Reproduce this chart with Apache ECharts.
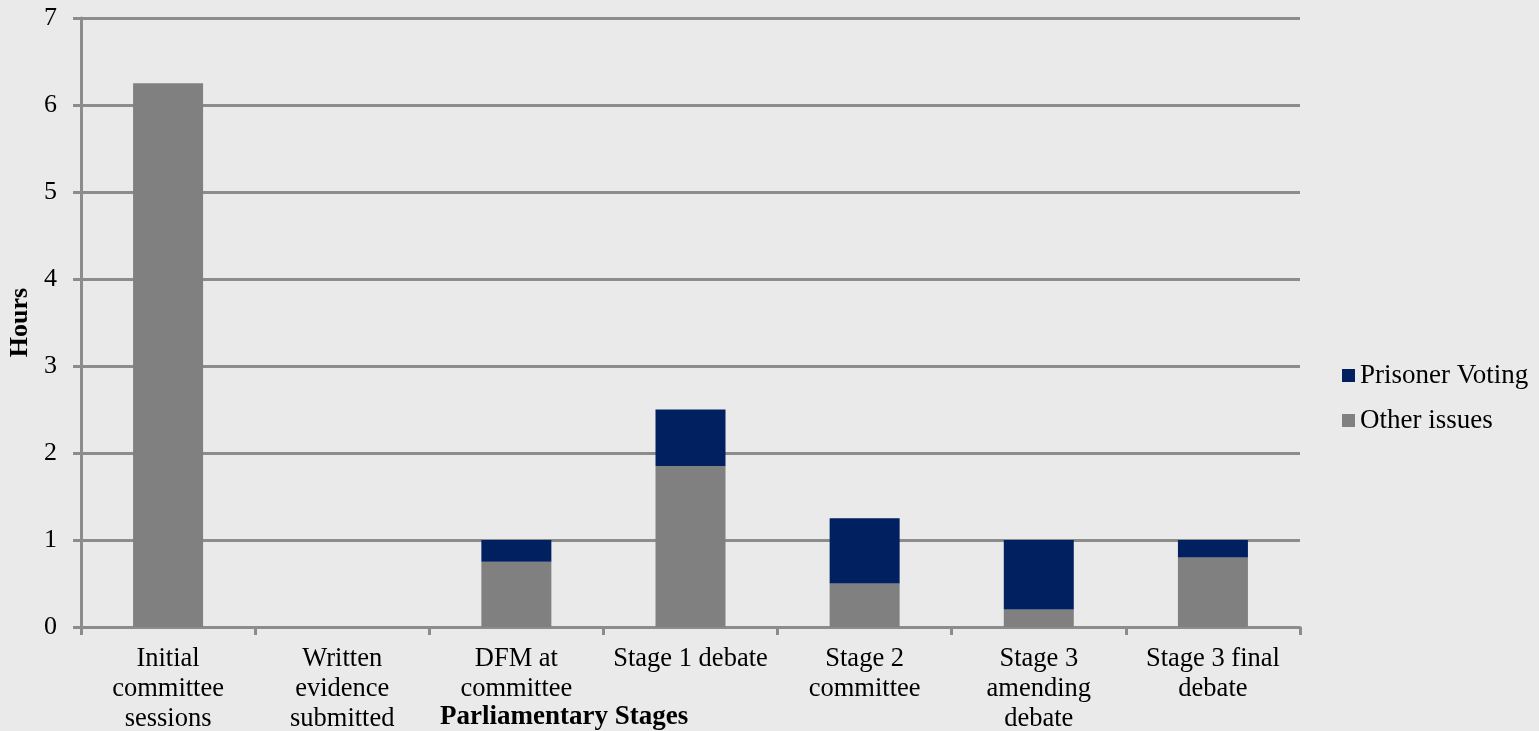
<!DOCTYPE html>
<html><head><meta charset="utf-8">
<script src="https://cdn.jsdelivr.net/npm/echarts@6/dist/echarts.min.js"></script>
<style>html,body{margin:0;padding:0;background:#eaeaea;overflow:hidden;}#c{width:100vw;height:100vh;}</style>
</head><body><div id="c"></div>
<script>
const categories = ["Initial\ncommittee\nsessions","Written\nevidence\nsubmitted","DFM at\ncommittee","Stage 1 debate","Stage 2\ncommittee","Stage 3\namending\ndebate","Stage 3 final\ndebate"];
const otherIssues = [6.25, 0, 0.75, 1.85, 0.5, 0.2, 0.8];
const prisonerVoting = [0, 0, 0.25, 0.65, 0.75, 0.8, 0.2];
const yTicks = {min: 0, max: 7, interval: 1};

const font = "'Liberation Serif', 'Times New Roman', serif";
const gridColor = '#8c8c8c';
const chart = echarts.init(document.getElementById('c'));
chart.setOption({
  backgroundColor: '#eaeaea',
  animation: false,
  textStyle: {fontFamily: font, color: '#000'},
  grid: {left: 81, right: 239, top: 18, bottom: 104, containLabel: false, outerBoundsMode: 'none'},
  legend: {
    orient: 'vertical', left: 1337, top: 357,
    itemWidth: 13, itemHeight: 13, itemGap: 18,
    icon: 'rect',
    textStyle: {fontFamily: font, fontSize: 27, lineHeight: 27, color: '#000'},
    data: ['Prisoner Voting', 'Other issues']
  },
  xAxis: {
    type: 'category', data: categories,
    axisLine: {lineStyle: {color: gridColor, width: 3}},
    axisTick: {show: true, alignWithLabel: false, length: 8, lineStyle: {color: gridColor, width: 3}},
    axisLabel: {interval: 0, fontFamily: font, fontSize: 26.5, color: '#000', lineHeight: 30, margin: 17}
  },
  yAxis: {
    type: 'value', min: yTicks.min, max: yTicks.max, interval: yTicks.interval,
    name: 'Hours', nameLocation: 'middle', nameGap: 38, nameRotate: 90,
    nameTextStyle: {fontFamily: font, fontSize: 26, fontWeight: 'bold', color: '#000'},
    axisLine: {show: true, lineStyle: {color: gridColor, width: 3}},
    axisTick: {show: true, length: 8, lineStyle: {color: gridColor, width: 3}},
    splitLine: {lineStyle: {color: gridColor, width: 3}},
    axisLabel: {fontFamily: font, fontSize: 26, color: '#000', margin: 24}
  },
  graphic: [{
    type: 'text', x: 440, y: 717,
    style: {text: 'Parliamentary Stages', font: "bold 27px 'Liberation Serif'", fill: '#000', textVerticalAlign: 'middle'}
  }],
  series: [
    {name: 'Other issues', type: 'bar', stack: 's', data: otherIssues, barWidth: 70, itemStyle: {color: '#808080'}},
    {name: 'Prisoner Voting', type: 'bar', stack: 's', data: prisonerVoting, barWidth: 70, itemStyle: {color: '#002060'}}
  ]
});
</script></body></html>
